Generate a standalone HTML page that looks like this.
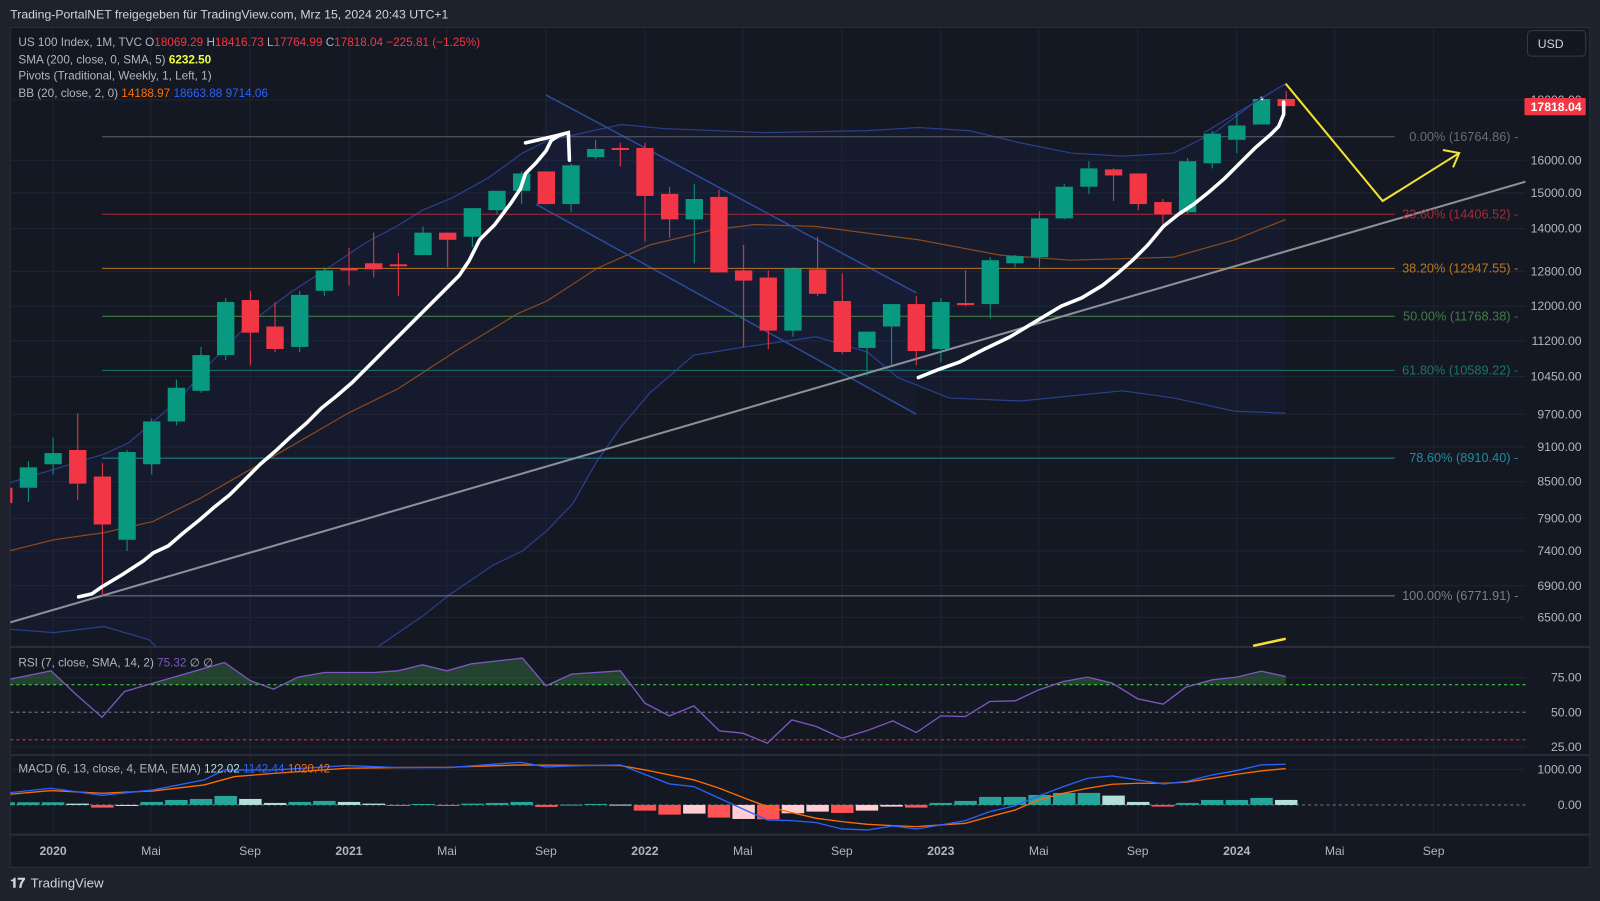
<!DOCTYPE html>
<html><head><meta charset="utf-8">
<style>
html,body{margin:0;padding:0;background:#1e222d;}
svg{display:block;font-family:"Liberation Sans",sans-serif;}
</style></head>
<body>
<svg id="s" width="1600" height="901" viewBox="0 0 1568 883" xmlns="http://www.w3.org/2000/svg">
<defs>
<clipPath id="cm"><rect x="10" y="27" width="1485" height="607"/></clipPath>
<clipPath id="cr70"><rect x="10" y="635" width="1485" height="36"/></clipPath>
<clipPath id="cmacd"><rect x="10" y="741" width="1485" height="77"/></clipPath>
</defs>
<rect x="0" y="0" width="1568" height="883" fill="#1e222d"/>
<rect x="10" y="27" width="1548" height="823" fill="#141823" stroke="#2a2e39"/>
<g id="grid"></g>
<g id="main" clip-path="url(#cm)"></g>
<g id="rsi"></g>
<g id="macd" clip-path="url(#cmacd)"></g>
<g id="txt"></g>
</svg>
<script>
var NS="http://www.w3.org/2000/svg";
function el(p,t,a,tx){var e=document.createElementNS(NS,t);for(var k in a)e.setAttribute(k,a[k]);if(tx!==undefined)e.textContent=tx;document.getElementById(p).appendChild(e);return e;}
function pts(a){return a.map(function(p){return p[0]+","+p[1]}).join(" ");}
function mx(m){return 52+24.17*m;}
var ticks=[52,148,245,342,438,535,632,728,825,922,1018,1115,1212,1308,1405];
ticks.forEach(function(x){el("grid","line",{x1:x,y1:27,x2:x,y2:818,stroke:"#1f2431","stroke-width":1});});
[157,189,224,266,300,334,369,406,438,472,508,540,574,605,98].forEach(function(y){el("grid","line",{x1:10,y1:y,x2:1495,y2:y,stroke:"#1f2431"});});
[664,732,754].forEach(function(y){el("grid","line",{x1:10,y1:y,x2:1495,y2:y,stroke:"#1f2431"});});
[634,740,818].forEach(function(y){el("grid","line",{x1:10,y1:y,x2:1558,y2:y,stroke:"#2a2e39","stroke-width":2});});
var bbU=[[0,476],[102,445],[126,434],[175,392],[207,355],[244,317],[284,287],[321,263],[358,238],[390,221],[414,206],[443,194],[479,174],[512,150],[536,138],[609,122],[650,126],[750,130],[850,128],[900,125],[950,128],[1000,140],[1050,150],[1100,153],[1150,150],[1190,130],[1230,100],[1260,82]];
var bbL=[[0,616],[53,620],[102,614],[146,627],[160,640],[360,640],[370,634],[414,604],[439,584],[483,554],[512,540],[536,520],[561,494],[585,452],[609,418],[637,385],[680,348],[730,340],[800,330],[850,345],[880,370],[930,390],[1000,393],[1100,383],[1150,390],[1210,403],[1260,405]];
el("main","polygon",{points:pts(bbU.concat(bbL.slice().reverse())),fill:"rgba(41,98,255,0.045)"});
el("main","polyline",{points:pts(bbU),fill:"none",stroke:"#2a3f8f","stroke-width":1.2});
el("main","polyline",{points:pts(bbL),fill:"none",stroke:"#2a3f8f","stroke-width":1.2});
var bbM=[[0,542],[53,529],[102,522],[150,511],[195,489],[228,470],[284,438],[341,405],[390,381],[447,344],[508,307],[536,295],[585,263],[637,240],[700,225],[740,220],[800,222],[900,235],[980,250],[1050,255],[1150,252],[1210,235],[1260,215]];
el("main","polyline",{points:pts(bbM),fill:"none",stroke:"#8a4a1c","stroke-width":1.2});
el("main","polygon",{points:"535,93 898,287 898,406 525,200",fill:"rgba(41,98,255,0.04)"});
el("main","line",{x1:535,y1:93,x2:898,y2:287,stroke:"#2c4a9a","stroke-width":1.5});
el("main","line",{x1:525,y1:200,x2:898,y2:406,stroke:"#2c4a9a","stroke-width":1.5});
var fibs=[[134,"#5d606b","0.00% (16764.86)"],[210,"#a8293a","23.60% (14406.52)"],[263,"#b8761e","38.20% (12947.55)"],[310,"#3f7d43","50.00% (11768.38)"],[363,"#17786a","61.80% (10589.22)"],[449,"#1e8c9a","78.60% (8910.40)"],[584,"#7a7d86","100.00% (6771.91)"]];
fibs.forEach(function(f){el("main","line",{x1:100,y1:f[0],x2:1367,y2:f[0],stroke:f[1],"stroke-width":1});});
el("main","line",{x1:10,y1:610,x2:1495,y2:178,stroke:"#8d9099","stroke-width":2});
var C=[[-2,478,493,470,498],[-1,478,458,452,492],[0,455,444,429,465],[1,441,474,405,490],[2,467,514,454,584],[3,529,443,441,540],[4,455,413,410,465],[5,413,380,372,417],[6,383,348,340,385],[7,348,296,292,353],[8,294,326,285,358],[9,320,342,296,345],[10,340,289,285,345],[11,285,265,262,290],[12,263,265,243,280],[13,258,264,228,272],[14,259,261,248,290],[15,250,228,222,250],[16,228,235,228,262],[17,232,204,204,242],[18,206,187,188,210],[19,187,170,168,200],[20,168,200,168,200],[21,200,162,160,208],[22,154,146,137,156],[23,145,147,140,163],[24,145,192,140,237],[25,190,215,183,233],[26,215,195,180,258],[27,193,267,186,267],[28,265,275,240,340],[29,272,324,265,342],[30,324,263,262,330],[31,264,288,232,290],[32,295,345,268,347],[33,341,325,325,368],[34,320,298,298,358],[35,298,344,290,358],[36,342,296,292,355],[37,297,299,265,300],[38,298,255,252,312],[39,258,251,250,262],[40,252,214,207,262],[41,214,183,180,215],[42,183,165,158,190],[43,166,172,165,197],[44,170,200,170,206],[45,198,210,195,220],[46,208,158,155,210],[47,160,131,128,165],[48,137,123,110,150],[49,122,97,95,122],[50,97,104,89,104]];
C.forEach(function(c){var x=mx(c[0]);var up=c[2]<c[1];var col=up?"#089981":"#f23645";
el("main","line",{x1:x,y1:c[3],x2:x,y2:c[4],stroke:col,"stroke-width":1});
var t=Math.min(c[1],c[2]),h=Math.max(Math.abs(c[1]-c[2]),2);
el("main","rect",{x:x-8.5,y:t,width:17,height:h,fill:col});});
var w1=[[77,585],[90,582],[100,575],[120,563],[140,550],[150,542],[165,535],[180,522],[195,510],[210,497],[225,485],[240,470],[255,455],[270,442],[285,428],[300,415],[315,400],[330,388],[345,375],[360,360],[375,345],[390,330],[405,315],[420,300],[435,285],[450,270],[460,255],[470,235],[485,220],[500,200],[510,185],[515,170],[525,160],[535,148],[540,138]];
el("main","polyline",{points:pts(w1),fill:"none",stroke:"#fff","stroke-width":3.5,"stroke-linejoin":"round","stroke-linecap":"round"});
el("main","polyline",{points:"515,140 545,133 557,130 558,157",fill:"none",stroke:"#fff","stroke-width":3.5,"stroke-linecap":"round"});
el("main","polyline",{points:"540,138 548,133 557,130",fill:"none",stroke:"#fff","stroke-width":3});
var w2=[[900,370],[920,362],[940,355],[965,342],[990,330],[1015,315],[1040,300],[1060,292],[1080,280],[1095,268],[1110,255],[1125,240],[1140,222],[1155,210],[1170,200],[1185,188],[1200,175],[1215,160],[1230,145],[1245,132],[1253,124],[1258,112],[1258,100]];
el("main","polyline",{points:pts(w2),fill:"none",stroke:"#fff","stroke-width":3.5,"stroke-linejoin":"round","stroke-linecap":"round"});
el("main","line",{x1:1236,y1:98,x2:1237,y2:95,stroke:"#fff","stroke-width":3});
el("main","line",{x1:1180,y1:130,x2:1260,y2:82,stroke:"#2a3f8f","stroke-width":1.2});
el("main","polyline",{points:"1260,82 1355,197 1430,150",fill:"none",stroke:"#f5e133","stroke-width":2});
el("main","polyline",{points:"1414,147 1430,150 1424,164",fill:"none",stroke:"#f5e133","stroke-width":2});
el("main","line",{x1:1228,y1:633,x2:1260,y2:626,stroke:"#f5e133","stroke-width":2.5});
fibs.forEach(function(f){el("txt","text",{x:1488,y:f[0]+4,"text-anchor":"end","font-size":12.5,fill:f[1]==="#5d606b"?"#6a6d78":f[1]},f[2]+" -");});
[["16000.00",157],["15000.00",189],["14000.00",224],["12800.00",266],["12000.00",300],["11200.00",334],["10450.00",369],["9700.00",406],["9100.00",438],["8500.00",472],["7900.00",508],["7400.00",540],["6900.00",574],["6500.00",605],["18000.00",98]].forEach(function(p){el("txt","text",{x:1550,y:p[1]+4,"text-anchor":"end","font-size":12,fill:"#b2b5be"},p[0]);});
el("txt","rect",{x:1494,y:96,width:60,height:17,fill:"#f23645",rx:1});
el("txt","text",{x:1550,y:109,"text-anchor":"end","font-size":12,"font-weight":"bold",fill:"#fff"},"17818.04");
el("txt","rect",{x:1497,y:30,width:57,height:25,rx:4,fill:"#131722",stroke:"#363a45"});
el("txt","text",{x:1507,y:47,"font-size":12,fill:"#d1d4dc"},"USD");
function ry(z){return 627+z*0.327;}
var R=[[10,118],[50,93],[75,165],[100,232],[122,155],[150,130],[220,68],[245,122],[268,148],[292,112],[318,98],[366,98],[390,93],[414,75],[438,93],[462,72],[512,55],[535,138],[560,103],[608,93],[632,190],[656,228],[680,198],[705,273],[728,280],[752,310],[776,240],[800,260],[825,295],[850,272],[875,243],[898,278],[922,228],[946,230],[970,185],[995,183],[1018,150],[1042,125],[1066,112],[1090,130],[1115,177],[1140,193],[1162,142],[1188,120],[1212,112],[1236,94],[1260,110]].map(function(p){return [p[0],ry(p[1])];});
var g=el("rsi","g",{"clip-path":"url(#cr70)"});
var poly=document.createElementNS(NS,"polygon");poly.setAttribute("points",pts([[10,671]].concat(R).concat([[1260,671]])));poly.setAttribute("fill","rgba(76,175,80,0.28)");g.appendChild(poly);
el("rsi","line",{x1:10,y1:671,x2:1495,y2:671,stroke:"#3ec93e","stroke-width":1.2,"stroke-dasharray":"3,3"});
el("rsi","line",{x1:10,y1:698,x2:1495,y2:698,stroke:"#6a6d78","stroke-width":1.2,"stroke-dasharray":"3,3"});
el("rsi","line",{x1:10,y1:725,x2:1495,y2:725,stroke:"#d12a2a","stroke-width":1.2,"stroke-dasharray":"3,3"});
el("rsi","polyline",{points:pts(R),fill:"none",stroke:"#7e57c2","stroke-width":1.3});
[["75.00",664],["50.00",698],["25.00",732]].forEach(function(p){el("txt","text",{x:1550,y:p[1]+4,"text-anchor":"end","font-size":12,fill:"#b2b5be"},p[0]);});
var H=[[-2,487,"t"],[-1,487,"t"],[0,487,"t"],[1,491,"l"],[2,503,"r"],[3,497,"p"],[4,486,"t"],[5,480,"t"],[6,477,"t"],[7,468,"t"],[8,477,"l"],[9,489,"l"],[10,486,"t"],[11,483,"t"],[12,486,"l"],[13,491,"l"],[14,497,"r"],[15,492,"t"],[16,497,"r"],[17,491,"t"],[18,489,"t"],[19,486,"t"],[20,501,"r"],[21,494,"t"],[22,492,"t"],[23,494,"l"],[24,512,"r"],[25,524,"r"],[26,521,"p"],[27,533,"r"],[28,537,"p"],[29,538,"r"],[30,520,"p"],[31,515,"p"],[32,519,"r"],[33,512,"p"],[34,500,"p"],[35,503,"r"],[36,489,"t"],[37,483,"t"],[38,471,"t"],[39,471,"t"],[40,465,"t"],[41,459,"t"],[42,459,"t"],[43,467,"l"],[44,486,"l"],[45,500,"r"],[46,489,"t"],[47,480,"t"],[48,480,"t"],[49,474,"t"],[50,480,"l"]];
var cols={t:"#26a69a",l:"#b2dfdb",r:"#ff5252",p:"#ffcdd2"};
var z0=ry(495);
el("macd","line",{x1:10,y1:z0,x2:1495,y2:z0,stroke:"#6a6d78","stroke-width":1,"stroke-dasharray":"3,3"});
H.forEach(function(h){var x=mx(h[0]),y=ry(h[1]);var t=Math.min(y,z0),hh=Math.max(Math.abs(y-z0),1);el("macd","rect",{x:x-11,y:t,width:22,height:hh,fill:cols[h[2]]});});
var MB=[[10,458],[50,445],[100,466],[150,450],[200,420],[220,390],[270,390],[340,377],[390,383],[440,383],[510,367],[535,381],[560,378],[608,375],[656,432],[680,440],[705,475],[730,510],[752,540],[776,542],[800,548],[825,567],[850,570],[875,558],[898,567],[922,555],[946,542],[970,515],[995,497],[1018,468],[1042,440],[1066,415],[1090,408],[1115,420],[1140,432],[1162,425],[1188,405],[1212,392],[1236,375],[1260,373]].map(function(p){return [p[0],ry(p[1])];});
var MO=[[10,463],[50,452],[100,460],[150,453],[200,435],[230,410],[270,400],[340,385],[390,383],[440,382],[510,375],[560,376],[608,377],[632,390],[680,420],[705,445],[730,475],[752,500],[776,518],[800,535],[825,545],[850,553],[875,557],[898,560],[922,555],[946,550],[970,530],[995,510],[1018,480],[1042,460],[1066,445],[1090,433],[1115,430],[1140,430],[1162,427],[1188,415],[1212,403],[1236,393],[1260,386]].map(function(p){return [p[0],ry(p[1])];});
el("macd","polyline",{points:pts(MO),fill:"none",stroke:"#ff6d00","stroke-width":1.3});
el("macd","polyline",{points:pts(MB),fill:"none",stroke:"#2962ff","stroke-width":1.3});
[["1000.00",754],["0.00",789]].forEach(function(p){el("txt","text",{x:1550,y:p[1]+4,"text-anchor":"end","font-size":12,fill:"#b2b5be"},p[0]);});
var tl=["2020","Mai","Sep","2021","Mai","Sep","2022","Mai","Sep","2023","Mai","Sep","2024","Mai","Sep"];
ticks.forEach(function(x,i){var yr=/^\d/.test(tl[i]);el("txt","text",{x:x,y:838,"text-anchor":"middle","font-size":12,"font-weight":yr?"bold":"normal",fill:"#b2b5be"},tl[i]);});
el("txt","text",{x:10,y:18,"font-size":12,fill:"#d1d4dc"},"Trading-PortalNET freigegeben für TradingView.com, Mrz 15, 2024 20:43 UTC+1");
function leg(y,parts){var t=el("txt","text",{x:18,y:y,"font-size":11.5,fill:"#b2b5be"});parts.forEach(function(p){var s=document.createElementNS(NS,"tspan");s.setAttribute("fill",p[1]);if(p[2])s.setAttribute("font-weight","bold");s.textContent=p[0];t.appendChild(s);});}
leg(45,[["US 100 Index, 1M, TVC  O","#b2b5be"],["18069.29","#f23645"],["  H","#b2b5be"],["18416.73","#f23645"],["  L","#b2b5be"],["17764.99","#f23645"],["  C","#b2b5be"],["17818.04  −225.81 (−1.25%)","#f23645"]]);
leg(62,[["SMA (200, close, 0, SMA, 5)  ","#b2b5be"],["6232.50","#eeff41",1]]);
leg(78,[["Pivots (Traditional, Weekly, 1, Left, 1)","#b2b5be"]]);
leg(95,[["BB (20, close, 2, 0)  ","#b2b5be"],["14188.97","#ff6d00"],["  18663.88","#2962ff"],["  9714.06","#2962ff"]]);
leg(653,[["RSI (7, close, SMA, 14, 2)  ","#b2b5be"],["75.32","#7e57c2"],["  ∅  ∅","#b2b5be"]]);
leg(757,[["MACD (6, 13, close, 4, EMA, EMA)  ","#b2b5be"],["122.02","#b2dfdb"],["  1142.44","#2962ff"],["  1020.42","#ff6d00"]]);
el("txt","text",{x:10,y:870,"font-size":13,"font-weight":"bold",fill:"#d1d4dc"},"𝟏𝟕");
el("txt","text",{x:30,y:870,"font-size":13,fill:"#d1d4dc"},"TradingView");
</script>
</body></html>
